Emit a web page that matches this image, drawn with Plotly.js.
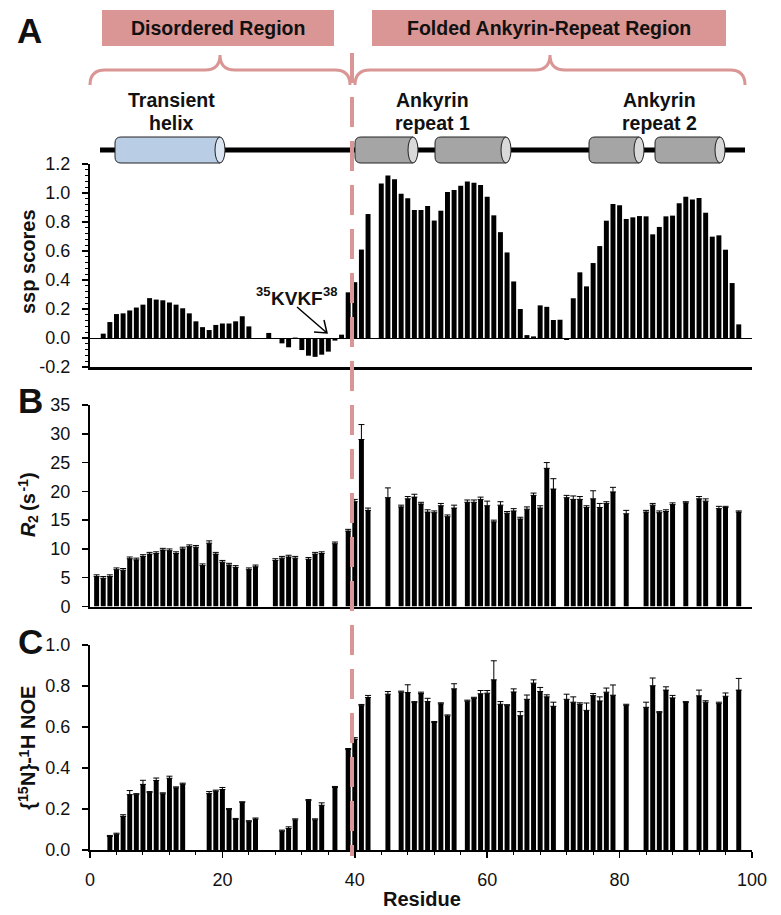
<!DOCTYPE html>
<html><head><meta charset="utf-8">
<script src="https://cdn.plot.ly/plotly-3.0.1.min.js"></script>
<style>body{margin:0;background:#fff}</style>
</head><body><div id="chart" style="width:781px;height:915px"></div>
<script>
// ---------- DATA ----------
const resA = [2,3,4,5,6,7,8,9,10,11,12,13,14,15,16,17,18,19,20,21,22,23,24,
  27,28,29,30,31,32,33,34,35,36,37,38,39,40,41,42,
  44,45,46,47,48,49,50,51,52,53,54,55,56,57,58,59,60,61,62,63,64,65,66,67,68,69,70,71,72,
  73,74,75,76,77,78,79,80,81,82,83,84,85,86,87,88,89,90,91,92,93,94,95,96,97,98];
const sspA = [0.03,0.11,0.165,0.17,0.19,0.21,0.23,0.275,0.265,0.26,0.245,0.23,0.205,0.17,0.115,0.075,0.055,0.09,0.10,0.10,0.115,0.15,0.08,
  0.035,-0.007,-0.037,-0.064,0.003,-0.083,-0.122,-0.13,-0.115,-0.094,-0.018,0.023,0.315,0.385,0.61,0.855,
  1.065,1.12,1.095,0.995,0.963,0.883,0.883,0.91,0.81,0.878,1.007,1.02,1.05,1.08,1.07,1.055,0.975,0.846,0.73,0.59,0.39,0.2,0.02,0.011,0.225,0.215,0.124,0.126,-0.014,
  0.274,0.453,0.356,0.517,0.634,0.809,0.924,0.915,0.821,0.832,0.841,0.839,0.715,0.766,0.839,0.844,0.929,0.975,0.956,0.966,0.864,0.699,0.708,0.609,0.379,0.094];

const resB = [1,2,3,4,5,6,7,8,9,10,11,12,13,14,15,16,17,18,19,20,21,22,24,25,28,29,30,31,33,34,35,37,
  39,40,41,42,45,47,48,49,50,51,52,53,54,55,57,58,59,60,61,62,63,64,65,66,67,68,69,70,
  72,73,74,75,76,77,78,79,81,84,85,86,87,88,90,92,93,95,96,98];
const r2B = [5.2,4.9,5.2,6.4,6.3,8.3,8.1,8.7,9.1,9.2,9.8,9.7,9.2,10.0,10.4,10.3,7.1,11.0,9.1,7.7,7.2,6.8,6.4,6.9,8.0,8.4,8.6,8.4,8.2,9.1,9.2,10.9,
  13.1,18.2,29.0,16.7,18.9,17.3,18.7,19.0,17.8,16.4,16.3,17.5,15.6,17.1,18.1,18.1,18.6,17.5,14.7,17.6,16.2,16.6,15.2,16.9,19.3,17.1,24.0,20.4,
  18.9,18.6,18.6,17.2,18.7,17.2,17.9,19.9,16.1,16.4,17.6,16.3,16.5,17.7,18.0,18.7,18.3,17.0,17.2,16.4];
const r2Err = [0.3,0.3,0.3,0.3,0.3,0.3,0.3,0.3,0.3,0.3,0.3,0.3,0.3,0.3,0.3,0.3,0.3,0.4,0.3,0.3,0.3,0.3,0.3,0.3,0.3,0.3,0.3,0.3,0.3,0.3,0.3,0.3,
  0.3,0.4,2.6,0.4,1.7,0.3,0.4,0.5,0.3,0.4,0.3,0.4,0.3,0.5,0.4,0.4,0.4,0.8,0.3,0.6,0.3,0.4,0.3,0.4,0.4,0.4,1.0,1.8,
  0.4,0.6,0.5,0.3,1.4,0.7,0.3,0.8,0.6,0.3,0.3,0.3,0.3,0.3,0.2,0.4,0.4,0.4,0.2,0.2];

const resC = [3,4,5,6,7,8,9,10,11,12,13,14,18,19,20,21,22,23,24,25,29,30,31,33,34,35,37,
  39,40,41,42,45,47,48,49,50,51,52,53,54,55,57,58,59,60,61,62,63,64,65,66,67,68,69,70,
  72,73,74,75,76,77,78,79,81,84,85,86,87,88,90,92,93,95,96,98];
const noeC = [0.066,0.077,0.164,0.27,0.27,0.32,0.28,0.339,0.274,0.35,0.303,0.321,0.275,0.287,0.295,0.197,0.149,0.233,0.138,0.151,0.092,0.105,0.147,0.241,0.147,0.218,0.305,
  0.49,0.54,0.704,0.744,0.76,0.77,0.768,0.719,0.763,0.724,0.622,0.713,0.654,0.786,0.726,0.74,0.762,0.765,0.83,0.711,0.704,0.771,0.655,0.735,0.814,0.773,0.747,0.701,
  0.735,0.721,0.711,0.681,0.753,0.727,0.77,0.755,0.706,0.696,0.801,0.67,0.78,0.742,0.719,0.752,0.721,0.714,0.75,0.78];
const noeErr = [0.005,0.005,0.008,0.02,0.005,0.02,0.005,0.012,0.005,0.01,0.005,0.005,0.01,0.005,0.01,0.005,0.005,0.002,0.005,0.005,0.005,0.008,0.005,0.005,0.005,0.012,0.005,
  0.005,0.008,0.006,0.01,0.013,0.005,0.038,0.005,0.007,0.016,0.005,0.005,0.005,0.025,0.005,0.005,0.016,0.013,0.093,0.013,0.005,0.015,0.02,0.021,0.016,0.02,0.01,0.02,
  0.025,0.026,0.007,0.036,0.01,0.02,0.02,0.05,0.005,0.025,0.038,0.005,0.016,0.012,0.005,0.028,0.007,0.007,0.016,0.057];

const xTicks = [0,20,40,60,80,100];
const sspTicks = [-0.2,0,0.2,0.4,0.6,0.8,1.0,1.2];
const sspTickText = ['-0.2','0.0','0.2','0.4','0.6','0.8','1.0','1.2'];
const r2Ticks = [0,5,10,15,20,25,30,35];
const noeTicks = [0,0.2,0.4,0.6,0.8,1.0];
const noeTickText = ['0.0','0.2','0.4','0.6','0.8','1.0'];

// ---------- LAYOUT HELPERS (pixel -> paper) ----------
const L = 90, R = 29, T = 164, B = 65, W = 781, H = 915;
const PW = W - L - R, PH = H - T - B;
const PX = px => (px - L) / PW;
const PY = py => (H - B - py) / PH;

const PINK = '#d99694';
const FONT = 'Liberation Sans, Arial, sans-serif';

const shapes = [];
shapes.push({type:'rect', xref:'paper', yref:'paper', x0:PX(102), x1:PX(334), y0:PY(46), y1:PY(10), fillcolor:PINK, line:{width:0}});
shapes.push({type:'rect', xref:'paper', yref:'paper', x0:PX(372), x1:PX(726), y0:PY(46), y1:PY(10), fillcolor:PINK, line:{width:0}});

function bracePath(a, m, b) {
  const yE = 85, yA = 70, yT = 55, r = 15;
  const p = (x, y) => PX(x) + ',' + PY(y);
  return 'M' + p(a, yE) + ' Q' + p(a, yA) + ' ' + p(a + r, yA) + ' L' + p(m - r, yA) +
    ' Q' + p(m, yA) + ' ' + p(m, yT) + ' Q' + p(m, yA) + ' ' + p(m + r, yA) +
    ' L' + p(b - r, yA) + ' Q' + p(b, yA) + ' ' + p(b, yE);
}
shapes.push({type:'path', xref:'paper', yref:'paper', path:bracePath(90, 220, 350), line:{color:PINK, width:3}});
shapes.push({type:'path', xref:'paper', yref:'paper', path:bracePath(355, 550, 745), line:{color:PINK, width:3}});

// backbone line
shapes.push({type:'line', xref:'paper', yref:'paper', x0:PX(100), x1:PX(745), y0:PY(150), y1:PY(150), line:{color:'black', width:5}});

function cylinder(x0, x1, fill, cap) {
  const p = (x, y) => PX(x) + ',' + PY(y);
  const yt = 137, yb = 163, r = 6;
  shapes.push({type:'path', xref:'paper', yref:'paper',
    path:'M' + p(x0 + r, yt) + ' L' + p(x1, yt) + ' L' + p(x1, yb) + ' L' + p(x0 + r, yb) +
      ' Q' + p(x0, yb) + ' ' + p(x0, yb - r) + ' L' + p(x0, yt + r) + ' Q' + p(x0, yt) + ' ' + p(x0 + r, yt) + ' Z',
    fillcolor:fill, line:{color:'#222', width:1}});
  shapes.push({type:'circle', xref:'paper', yref:'paper', x0:PX(x1 - 5), x1:PX(x1 + 5), y0:PY(yb), y1:PY(yt),
    fillcolor:cap, line:{color:'#222', width:1}});
}
cylinder(115, 220, '#b9cde5', '#dce6f2');
cylinder(355, 413, '#a5a5a5', '#d9d9d9');
cylinder(435, 506, '#a5a5a5', '#d9d9d9');
cylinder(589, 639, '#a5a5a5', '#d9d9d9');
cylinder(655, 720, '#a5a5a5', '#d9d9d9');

// arrow for KVKF
shapes.push({type:'path', xref:'paper', yref:'paper',
  path:'M' + PX(297) + ',' + PY(307) + ' L' + PX(327) + ',' + PY(333) + ' M' + PX(314) + ',' + PY(332) + ' L' + PX(327) + ',' + PY(333) + ' L' + PX(324) + ',' + PY(320),
  line:{color:'black', width:1.5}});

// dashed divider
shapes.push({type:'line', xref:'paper', yref:'paper', x0:PX(352), x1:PX(352), y0:PY(53), y1:PY(856),
  line:{color:PINK, width:4, dash:'30px,14px'}});

const ann = [];
function txt(text, x, y, size, extra, style) {
  ann.push(Object.assign({text:text, xref:'paper', yref:'paper', x:PX(x), y:PY(y), showarrow:false,
    xanchor:'center', yanchor:'middle', font:Object.assign({family:FONT, size:size, color:'#111', weight:'bold'}, style || {})}, extra || {}));
}
txt('Disordered Region', 218, 28, 19.5);
txt('Folded Ankyrin-Repeat Region', 549, 28, 19.5);
txt('Transient', 171, 100, 19.5);
txt('helix', 171, 123, 19.5);
txt('Ankyrin', 432, 100, 19.5);
txt('repeat 1', 432, 123, 19.5);
txt('Ankyrin', 659, 100, 19.5);
txt('repeat 2', 659, 123, 19.5);
txt('A', 29, 31, 35);
txt('B', 30, 400, 35);
txt('C', 30, 641, 35);
// 35KVKF38 (superscripts as separate small texts)
txt('35', 263.4, 291, 13);
txt('KVKF', 296.7, 298, 19);
txt('38', 330, 291, 13);
// y-axis titles (rotated)
const rot = {textangle:-90};
txt('ssp scores', 28, 262, 20, rot);
txt('R', 28, 530, 20, rot, {style:'italic'});
txt('2', 33, 519, 14, rot);
txt('(s', 28, 502, 20, rot);
txt('-1', 23, 485.6, 14, rot);
txt(')', 28, 476, 20, rot);
txt('{', 28, 805.8, 20, rot);
txt('15', 23, 794.1, 14, rot);
txt('N}-', 28, 771.9, 20, rot);
txt('1', 23, 753.5, 14, rot);
txt('H NOE', 28, 718, 20, rot);
txt('Residue', 422, 899, 20);

const barCommon = {type:'bar', width:0.75, marker:{color:'black', line:{width:0}}, hoverinfo:'x+y'};
const traces = [
  Object.assign({}, barCommon, {x:resA, y:sspA, xaxis:'x3', yaxis:'y'}),
  Object.assign({}, barCommon, {x:resB, y:r2B, xaxis:'x2', yaxis:'y2',
    error_y:{type:'data', array:r2Err, arrayminus:r2Err.map(() => 0), color:'black', thickness:1, width:3}}),
  Object.assign({}, barCommon, {x:resC, y:noeC, xaxis:'x', yaxis:'y3',
    error_y:{type:'data', array:noeErr, arrayminus:noeErr.map(() => 0), color:'black', thickness:1, width:3}})
];

const tickFont = {family:FONT, size:18, color:'#111'};
const yBase = {showline:true, linewidth:2, linecolor:'black', ticks:'outside', ticklen:6, tickwidth:1.5, tickcolor:'black',
  tickfont:tickFont, showgrid:false, zeroline:false, fixedrange:true, ticklabelstandoff:8};
const xHidden = {range:[0,100], showline:true, linewidth:2.5, linecolor:'black', ticks:'', showticklabels:false, showgrid:false, zeroline:false};

const layout = {
  width:W, height:H, margin:{l:L, r:R, t:T, b:B}, paper_bgcolor:'white', plot_bgcolor:'rgba(0,0,0,0)',
  showlegend:false, font:{family:FONT, color:'#111'},
  xaxis:{range:[0,100], anchor:'y3', tickvals:xTicks, ticks:'outside', ticklen:6, tickwidth:1.5, tickcolor:'black',
    minor:{dtick:4, tick0:0, ticks:'outside', ticklen:3, tickwidth:1, tickcolor:'black'},
    showline:true, linewidth:2, linecolor:'black', tickfont:tickFont, showgrid:false, zeroline:false, ticklabelstandoff:6},
  xaxis2:Object.assign({}, xHidden, {anchor:'y2', linewidth:2}),
  xaxis3:Object.assign({}, xHidden, {anchor:'y'}),
  yaxis:Object.assign({}, yBase, {domain:[PY(367), PY(164)], anchor:'x3', range:[-0.2,1.2], tickvals:sspTicks, ticktext:sspTickText,
    zeroline:true, zerolinewidth:1, zerolinecolor:'black',
    minor:{dtick:0.04, ticks:'outside', ticklen:3, tickwidth:1, tickcolor:'black'}}),
  yaxis2:Object.assign({}, yBase, {domain:[PY(606.5), PY(405)], anchor:'x2', range:[0,35], tickvals:r2Ticks}),
  yaxis3:Object.assign({}, yBase, {domain:[PY(850), PY(645)], anchor:'x', range:[0,1.0], tickvals:noeTicks, ticktext:noeTickText}),
  shapes:shapes, annotations:ann
};

Plotly.newPlot('chart', traces, layout, {displayModeBar:false, staticPlot:true});
</script>
</body></html>
